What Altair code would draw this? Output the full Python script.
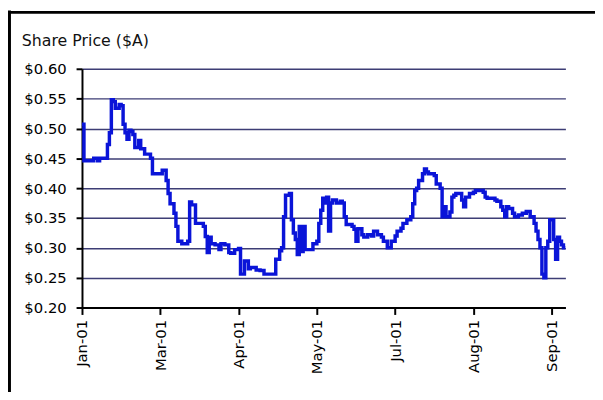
import altair as alt
import pandas as pd

# ---- data ----
day = [0, 1, 4, 6, 8, 9, 12, 13, 14, 15, 16, 17, 18, 19, 20, 21, 22, 23, 24, 25,
       26, 27, 29, 30, 32, 34, 35, 36, 39, 41, 43, 44, 45, 47, 48, 49, 51, 54, 55, 56,
       58, 60, 62, 63, 64, 65, 66, 68, 70, 71, 73, 75, 76, 78, 80, 81, 83, 85, 86, 89,
       91, 93, 95, 98, 99, 101, 102, 103, 104, 106, 107, 108, 109, 110, 111, 112, 113, 114, 117, 118,
       120, 121, 122, 123, 124, 125, 126, 127, 128, 130, 132, 133, 134, 135, 138, 139, 140, 141, 143, 144,
       146, 148, 149, 151, 153, 154, 156, 158, 160, 161, 163, 164, 166, 168, 169, 170, 171, 172, 174, 175,
       176, 177, 180, 181, 183, 184, 185, 186, 187, 188, 189, 190, 191, 193, 194, 195, 196, 198, 200, 201,
       203, 205, 206, 207, 209, 211, 212, 214, 215, 216, 217, 218, 220, 221, 223, 225, 227, 229, 231, 232,
       233, 234, 235, 236, 237, 238, 239, 240, 241, 242, 243, 244, 245, 246, 247]
price = [0.507, 0.446, 0.446, 0.450, 0.446, 0.450, 0.450, 0.473, 0.493, 0.548, 0.545, 0.534, 0.534, 0.540, 0.538, 0.507, 0.493, 0.482, 0.497, 0.495,
         0.490, 0.468, 0.480, 0.466, 0.457, 0.457, 0.450, 0.424, 0.424, 0.430, 0.413, 0.391, 0.374, 0.358, 0.336, 0.311, 0.307, 0.311, 0.377, 0.372,
         0.341, 0.341, 0.336, 0.319, 0.292, 0.318, 0.307, 0.305, 0.297, 0.307, 0.305, 0.292, 0.291, 0.297, 0.299, 0.256, 0.278, 0.265, 0.267, 0.263,
         0.262, 0.256, 0.256, 0.256, 0.281, 0.295, 0.300, 0.352, 0.388, 0.391, 0.347, 0.325, 0.314, 0.289, 0.336, 0.294, 0.336, 0.297, 0.297, 0.307,
         0.311, 0.341, 0.363, 0.383, 0.375, 0.385, 0.328, 0.375, 0.380, 0.375, 0.378, 0.375, 0.352, 0.339, 0.336, 0.331, 0.311, 0.332, 0.322, 0.318,
         0.322, 0.320, 0.328, 0.322, 0.318, 0.311, 0.300, 0.311, 0.320, 0.328, 0.333, 0.341, 0.347, 0.352, 0.374, 0.396, 0.400, 0.413, 0.424, 0.432,
         0.427, 0.424, 0.421, 0.407, 0.400, 0.352, 0.369, 0.352, 0.352, 0.360, 0.385, 0.388, 0.391, 0.391, 0.380, 0.369, 0.385, 0.391, 0.393, 0.396,
         0.396, 0.393, 0.385, 0.383, 0.383, 0.380, 0.378, 0.369, 0.363, 0.352, 0.369, 0.366, 0.358, 0.352, 0.355, 0.358, 0.361, 0.352, 0.341, 0.328,
         0.314, 0.300, 0.256, 0.250, 0.300, 0.311, 0.347, 0.347, 0.314, 0.281, 0.318, 0.311, 0.305, 0.300, 0.300]

tick_days = [0, 40, 80, 120, 160, 200, 240]
tick_labels = ["Jan-01", "Mar-01", "Apr-01", "May-01", "Jul-01", "Aug-01", "Sep-01"]
y_ticks = [0.20, 0.25, 0.30, 0.35, 0.40, 0.45, 0.50, 0.55, 0.60]
chart_title = "Share Price ($A)"

assert len(day) == len(price)
df = pd.DataFrame({"day": day, "price": price})

label_map = "{" + ",".join(f"'{d}':'{l}'" for d, l in zip(tick_days, tick_labels)) + "}"

FONT = "DejaVu Sans"

line = alt.Chart(df).mark_line(color="#0a14d8", strokeWidth=3.5, interpolate="step-after",
                               strokeJoin="miter").encode(
    x=alt.X("day:Q",
            scale=alt.Scale(domain=[0, 247], nice=False, zero=False),
            axis=alt.Axis(values=tick_days, labelExpr=label_map + "[datum.value]",
                          title=None, grid=False, labelAngle=270,
                          labelFont=FONT, labelFontSize=15, labelColor="#000",
                          tickSize=7, tickWidth=2, tickColor="#000",
                          domainColor="#000", domainWidth=2, labelPadding=5)),
    y=alt.Y("price:Q",
            scale=alt.Scale(domain=[0.20, 0.60], nice=False, zero=False),
            axis=alt.Axis(values=y_ticks, format="$.2f", title=None,
                          grid=True, gridColor="#3d3d75", gridWidth=1.5,
                          labelFont=FONT, labelFontSize=15, labelColor="#000",
                          tickSize=6, tickWidth=2, tickColor="#000",
                          domainColor="#000", domainWidth=2, labelPadding=10)),
)

one = pd.DataFrame({"t": [chart_title]})

title_txt = alt.Chart(one).mark_text(font=FONT, fontSize=16, align="left",
                                     baseline="alphabetic", color="#111").encode(
    x=alt.value(-61), y=alt.value(-23), text="t:N")

border_top = alt.Chart(one).mark_rule(color="#000", strokeWidth=3).encode(
    x=alt.value(-75), x2=alt.value(520), y=alt.value(-57.2))
border_left = alt.Chart(one).mark_rule(color="#000", strokeWidth=3).encode(
    x=alt.value(-73.5), y=alt.value(-59), y2=alt.value(330))

chart = alt.layer(line, title_txt, border_top, border_left).properties(
    width=490, height=242,
    autosize=alt.AutoSizeParams(type="none"),
    padding={"left": 75, "top": 59, "right": 30, "bottom": 83},
    background="white",
).configure_view(stroke=None)

chart.save("out.html", embed_options={"renderer": "svg", "actions": False})
